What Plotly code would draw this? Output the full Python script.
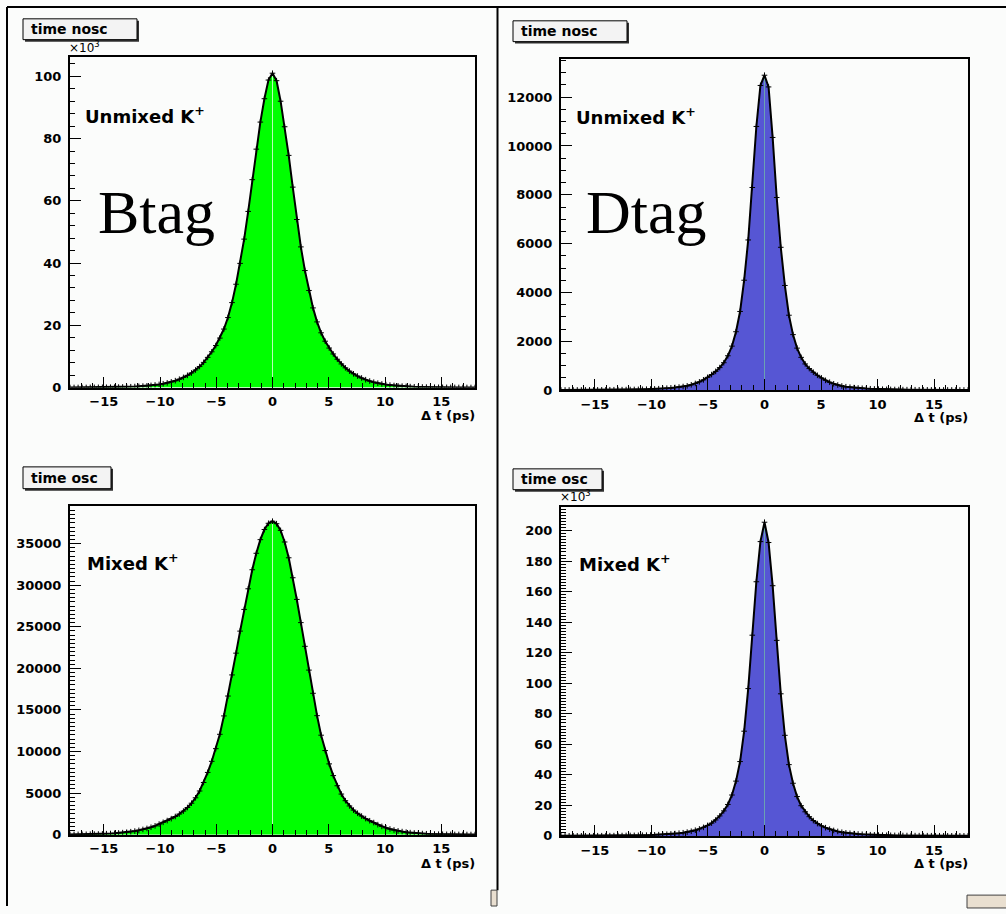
import numpy as np
import plotly.graph_objects as go

# ---------------------------------------------------------------------------
# Histogram binning (Delta t in ps)
# ---------------------------------------------------------------------------
N_BINS = 101
T_LO, T_HI = -18.18, 18.18
bin_width = (T_HI - T_LO) / N_BINS
dt_centers = T_LO + bin_width * (np.arange(N_BINS) + 0.5)

# ---------------------------------------------------------------------------
# Bin contents
# ---------------------------------------------------------------------------
# Btag, unmixed K+   (entries / 10^3)
btag_unmixed = [
    0.025, 0.03, 0.035, 0.04, 0.045, 0.055, 0.065, 0.075, 0.085, 0.10,
    0.12, 0.14, 0.16, 0.19, 0.23, 0.27, 0.33, 0.39, 0.47, 0.57,
    0.70, 0.84, 1.02, 1.23, 1.50, 1.83, 2.22, 2.69, 3.27, 3.93,
    4.70, 5.65, 6.75, 8.10, 9.70, 11.5, 13.5, 15.9, 18.8, 22.5,
    27.3, 33.2, 39.9, 47.7, 56.6, 66.8, 76.6, 85.3, 92.8, 98.8,
    101.0,
    98.6, 92.0, 83.8, 74.6, 64.4, 54.0, 45.2, 37.6, 31.2, 25.6,
    21.1, 17.6, 14.9, 12.7, 10.8, 9.1, 7.6, 6.34, 5.30, 4.42,
    3.70, 3.08, 2.53, 2.09, 1.72, 1.41, 1.16, 0.96, 0.79, 0.66,
    0.54, 0.45, 0.37, 0.31, 0.26, 0.22, 0.18, 0.15, 0.13, 0.11,
    0.09, 0.08, 0.07, 0.06, 0.05, 0.04, 0.035, 0.03, 0.025, 0.02,
]

# Dtag, unmixed K+   (entries)
dtag_unmixed = [
    3, 3, 3, 4, 4, 5, 6, 6, 7, 8,
    9, 10, 12, 13, 15, 17, 19, 22, 25, 28,
    31, 36, 41, 47, 55, 65, 76, 89, 104, 122,
    144, 173, 216, 270, 336, 418, 520, 635, 765, 920,
    1120, 1405, 1800, 2390, 3220, 4500, 6150, 8300, 10800, 12480,
    12900,
    12420, 10350, 7890, 5850, 4285, 3066, 2272, 1718, 1340, 1070,
    880, 730, 605, 496, 398, 320, 257, 206, 165, 137,
    117, 100, 85, 73, 62, 53, 45, 39, 34, 30,
    27, 24, 21, 18, 16, 14, 13, 11, 10, 9,
    8, 7, 6, 5, 5, 4, 4, 3, 3, 3,
]

# Btag, mixed K+   (entries)
btag_mixed = [
    21, 25, 30, 36, 43, 52, 63, 76, 92, 111,
    134, 162, 196, 237, 288, 350, 425, 516, 624, 743,
    885, 1055, 1270, 1480, 1690, 1920, 2180, 2480, 2830, 3260,
    3780, 4430, 5250, 6270, 7480, 8820, 10340, 12070, 14280, 16670,
    19210, 21830, 24480, 27090, 29570, 31860, 33840, 35480, 36700, 37450,
    37700,
    37400, 36600, 35200, 33300, 30900, 28290, 25500, 22650, 19790, 17000,
    14310, 11960, 10110, 8510, 7100, 5880, 4880, 4080, 3450, 2950,
    2570, 2230, 1930, 1670, 1450, 1200, 990, 819, 678, 556,
    450, 365, 296, 240, 194, 158, 128, 104, 85, 69,
    56, 46, 38, 31, 25, 21, 17, 14, 12, 10,
]

# Dtag, mixed K+   (entries / 10^3)
dtag_mixed = [
    0.05, 0.055, 0.06, 0.065, 0.07, 0.08, 0.09, 0.10, 0.11, 0.12,
    0.135, 0.155, 0.175, 0.195, 0.215, 0.245, 0.28, 0.32, 0.36, 0.41,
    0.465, 0.525, 0.60, 0.70, 0.815, 0.955, 1.12, 1.30, 1.53, 1.79,
    2.09, 2.50, 3.05, 3.74, 4.58, 5.60, 6.87, 8.40, 10.45, 13.1,
    16.4, 20.6, 26.8, 35.9, 48.7, 68.6, 96.5, 131.5, 166.5, 192.8,
    205.5,
    192.2, 163.9, 128.1, 93.1, 65.9, 46.7, 34.5, 25.8, 19.8, 15.8,
    12.6, 10.06, 8.09, 6.61, 5.40, 4.41, 3.60, 2.94, 2.41, 2.02,
    1.73, 1.48, 1.26, 1.08, 0.925, 0.79, 0.68, 0.58, 0.51, 0.45,
    0.40, 0.35, 0.31, 0.27, 0.24, 0.21, 0.19, 0.17, 0.15, 0.13,
    0.12, 0.11, 0.10, 0.09, 0.08, 0.07, 0.065, 0.06, 0.055, 0.05,
]

for series in (btag_unmixed, dtag_unmixed, btag_mixed, dtag_mixed):
    assert len(series) == N_BINS

x_tick_step = 5
x_minor_step = 1
x_title = "\u0394 t (ps)"

# ---------------------------------------------------------------------------
# Canvas geometry (pixels) and styling
# ---------------------------------------------------------------------------
W, H = 1006, 914
BG = "#fbfcfb"
GREEN = "#00ff00"
GREEN_MID = "#b6ffb6"
BLUE = "#5656d4"
BLUE_MID = "#6aa2b2"
SANS = "DejaVu Sans"
SERIF = "Liberation Serif"


def px(x):
    return x / W


def py(y):
    return 1 - y / H


panels = [
    dict(ax="", data=btag_unmixed, frame=(70, 58, 475, 391), fill=GREEN, mid=GREEN_MID,
         dtick=20, minor=4, label="Unmixed K<sup>+</sup>", label_xy=(83, 116),
         tag="Btag", tag_xy=(96, 214), box="time nosc", box_rect=(23, 19, 137, 40),
         scale_note=True, xtitle_y=419),
    dict(ax="2", data=dtag_unmixed, frame=(561, 60, 968, 393.5), fill=BLUE, mid=BLUE_MID,
         dtick=2000, minor=500, label="Unmixed K<sup>+</sup>", label_xy=(574, 117),
         tag="Dtag", tag_xy=(584, 214), box="time nosc", box_rect=(513, 21, 627, 42),
         scale_note=False, xtitle_y=421),
    dict(ax="3", data=btag_mixed, frame=(70, 510, 475, 842), fill=GREEN, mid=GREEN_MID,
         dtick=5000, minor=500, label="Mixed K<sup>+</sup>", label_xy=(85, 567),
         tag=None, tag_xy=None, box="time osc", box_rect=(23, 471, 111, 493),
         scale_note=False, xtitle_y=871),
    dict(ax="4", data=dtag_mixed, frame=(561, 511, 968, 843.3), fill=BLUE, mid=BLUE_MID,
         dtick=20, minor=2, label="Mixed K<sup>+</sup>", label_xy=(577, 568),
         tag=None, tag_xy=None, box="time osc", box_rect=(513, 473, 602, 494),
         scale_note=True, xtitle_y=871),
]

fig = go.Figure()
shapes = []
annotations = []
layout_axes = {}

tick_font = dict(family=SANS, size=13, color="black", weight="bold")

for p in panels:
    xref = "x" + p["ax"]
    yref = "y" + p["ax"]
    vals = np.asarray(p["data"], dtype=float)
    centre_val = vals[N_BINS // 2]

    # filled histogram body
    fig.add_trace(go.Scatter(
        x=dt_centers, y=vals, mode="lines", line=dict(width=0, color=p["fill"]),
        fill="tozeroy", fillcolor=p["fill"], xaxis=xref, yaxis=yref,
        hoverinfo="skip", showlegend=False))
    # thin line at dt = 0
    fig.add_trace(go.Scatter(
        x=[0, 0], y=[0, centre_val], mode="lines",
        line=dict(width=1, color=p["mid"]), xaxis=xref, yaxis=yref,
        hoverinfo="skip", showlegend=False))
    # outline
    fig.add_trace(go.Scatter(
        x=dt_centers, y=vals, mode="lines", line=dict(width=2, color="black"),
        xaxis=xref, yaxis=yref, hoverinfo="skip", showlegend=False))
    # bin markers
    fig.add_trace(go.Scatter(
        x=dt_centers, y=vals, mode="markers",
        marker=dict(symbol="cross-thin", size=4, line=dict(width=1, color="black")),
        xaxis=xref, yaxis=yref, showlegend=False))

    x0, y0, x1, y1 = p["frame"]
    xa = dict(
        domain=[px(x0), px(x1)], range=[-18, 18], anchor=yref,
        showline=True, linecolor="black", linewidth=2, mirror=True,
        ticks="inside", ticklen=11, tickwidth=1, tickcolor="black",
        tick0=0, dtick=x_tick_step, showgrid=False, zeroline=False,
        tickfont=tick_font, ticklabelstandoff=1,
        minor=dict(dtick=x_minor_step, ticks="inside", ticklen=5,
                   tickwidth=1, tickcolor="black", showgrid=False),
    )
    ya = dict(
        domain=[py(y1), py(y0)], range=[0, 1.05 * vals.max()], anchor=xref,
        showline=True, linecolor="black", linewidth=2, mirror=True,
        ticks="inside", ticklen=11, tickwidth=1, tickcolor="black",
        tick0=0, dtick=p["dtick"], tickformat="d", showgrid=False, zeroline=False,
        tickfont=tick_font, ticklabelstandoff=4,
        minor=dict(dtick=p["minor"], ticks="inside", ticklen=5,
                   tickwidth=1, tickcolor="black", showgrid=False),
    )
    layout_axes["xaxis" + p["ax"]] = xa
    layout_axes["yaxis" + p["ax"]] = ya

    # axis title
    annotations.append(dict(
        xref="paper", yref="paper", x=px(x1 + 2), y=py(p["xtitle_y"]),
        xanchor="right", yanchor="middle", text=x_title, showarrow=False,
        font=dict(family=SANS, size=13, color="black", weight="bold")))

    # K+ label
    lx, ly = p["label_xy"]
    annotations.append(dict(
        xref="paper", yref="paper", x=px(lx), y=py(ly), xanchor="left",
        yanchor="middle", text=p["label"], showarrow=False,
        font=dict(family=SANS, size=18, color="black", weight="bold")))

    # tag label
    if p["tag"]:
        tx, ty = p["tag_xy"]
        annotations.append(dict(
            xref="paper", yref="paper", x=px(tx), y=py(ty), xanchor="left",
            yanchor="middle", text=p["tag"], showarrow=False,
            font=dict(family=SERIF, size=62, color="black")))

    # x10^3 multiplier
    if p["scale_note"]:
        annotations.append(dict(
            xref="paper", yref="paper", x=px(x0 - 3), y=py(y0 - 1),
            xanchor="left", yanchor="bottom", text="\u00d710<sup>3</sup>",
            showarrow=False, font=dict(family=SANS, size=12, color="black")))

    # histogram title box with drop shadow
    bx0, by0, bx1, by1 = p["box_rect"]
    shapes.append(dict(type="rect", xref="paper", yref="paper",
                       x0=px(bx0 + 2), y0=py(by1 + 2), x1=px(bx1 + 2), y1=py(by0 + 2),
                       line=dict(width=0), fillcolor="#303030"))
    shapes.append(dict(type="rect", xref="paper", yref="paper",
                       x0=px(bx0), y0=py(by1), x1=px(bx1), y1=py(by0),
                       line=dict(width=1, color="black"), fillcolor="#f3f3f3"))
    annotations.append(dict(
        xref="paper", yref="paper", x=px(bx0 + 6), y=py((by0 + by1) / 2),
        xanchor="left", yanchor="middle", text=p["box"], showarrow=False,
        font=dict(family=SANS, size=14, color="black", weight="bold")))

# canvas pad borders
border = dict(color="black", width=2)
shapes += [
    dict(type="line", xref="paper", yref="paper", x0=px(7), x1=px(7), y0=py(7), y1=py(H), line=border),
    dict(type="line", xref="paper", yref="paper", x0=px(7), x1=px(W), y0=py(7), y1=py(7), line=border),
    dict(type="line", xref="paper", yref="paper", x0=px(497.5), x1=px(497.5), y0=py(7), y1=py(898), line=border),
    dict(type="rect", xref="paper", yref="paper", x0=px(491), x1=px(497), y0=py(H), y1=py(898),
         line=dict(color="#404040", width=1), fillcolor="#e9dfd0"),
    dict(type="rect", xref="paper", yref="paper", x0=px(967), x1=px(W + 2), y0=py(H + 2), y1=py(903),
         line=dict(color="#404040", width=1), fillcolor="#e9dfd0"),
]

fig.update_layout(
    width=W, height=H, margin=dict(l=0, r=0, t=0, b=0),
    paper_bgcolor=BG, plot_bgcolor=BG, showlegend=False,
    shapes=shapes, annotations=annotations, **layout_axes)

fig.write_html("out.html")
